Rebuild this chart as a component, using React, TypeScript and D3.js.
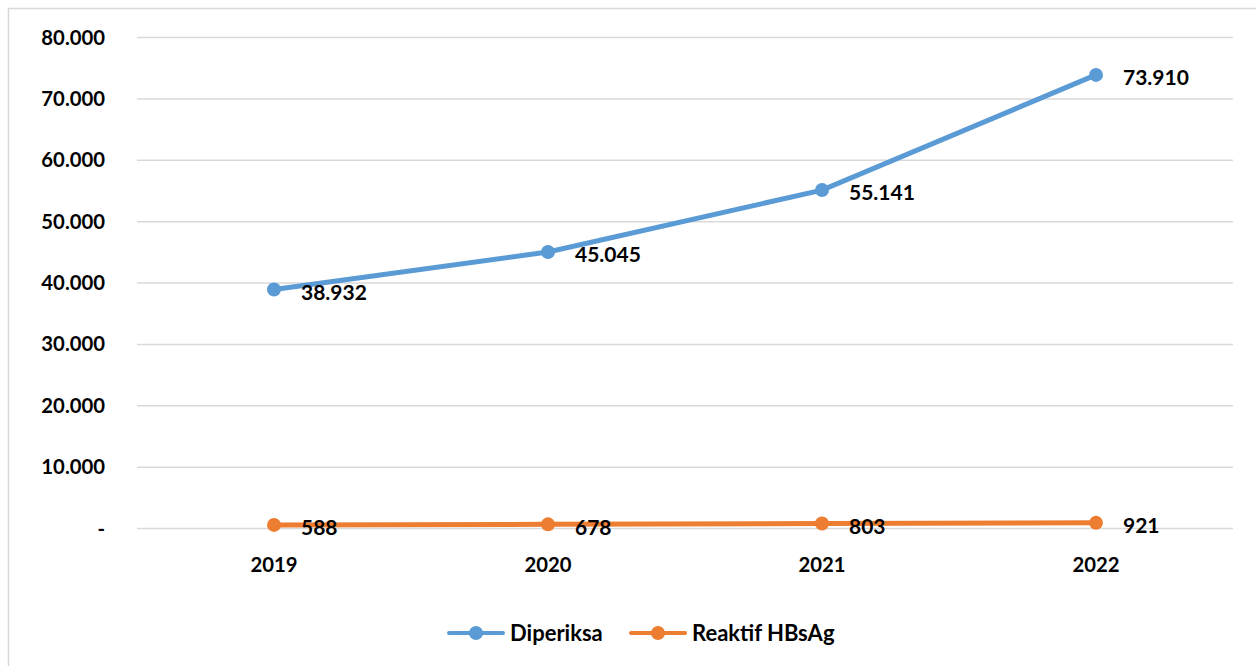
import React from "react";
import * as d3 from "d3";

const categories = ["2019", "2020", "2021", "2022"];
const diperiksa = [38932, 45045, 55141, 73910];
const reaktif = [588, 678, 803, 921];
const yTicks = [0, 10000, 20000, 30000, 40000, 50000, 60000, 70000, 80000];
const seriesNames = ["Diperiksa", "Reaktif HBsAg"];
const colors = ["#5B9BD5", "#ED7D31"];

const fmt = (v: number) => (v === 0 ? "-" : d3.format(",")(v).replace(/,/g, "."));

export default function App() {
  const W = 1256, H = 666;
  const x = d3.scaleBand().domain(categories).range([137, 1233]);
  const y = d3.scaleLinear().domain([0, 80000]).range([528.5, 37.5]);
  const cx = (c: string) => (x(c) ?? 0) + x.bandwidth() / 2;
  const line = d3.line<number>().x((_, i) => cx(categories[i])).y((d) => y(d));
  const series = [diperiksa, reaktif];
  const font = "Lato, 'Open Sans', sans-serif";
  const legendX = [449, 631];
  return (
    <svg width={W} height={H} style={{ position: "absolute", left: 0, top: 0 }} fontFamily={font}>
      <rect x={8.5} y={8.5} width={1260} height={670} fill="white" stroke="#D9D9D9" strokeWidth={1.5} />
      {yTicks.map((t) => (
        <g key={t}>
          <line x1={137} x2={1233} y1={y(t)} y2={y(t)} stroke="#D9D9D9" strokeWidth={1.5} />
          <text x={105} y={y(t)} dy="0.35em" textAnchor="end" fontSize={20.3} fontWeight="bold" fill="#000">
            {fmt(t)}
          </text>
        </g>
      ))}
      {categories.map((c) => (
        <text key={c} x={cx(c)} y={572} textAnchor="middle" fontSize={20.3} fontWeight="bold" fill="#000">
          {c}
        </text>
      ))}
      {series.map((s, si) => (
        <g key={si}>
          <path d={line(s) ?? ""} fill="none" stroke={colors[si]} strokeWidth={5} strokeLinecap="round" />
          {s.map((v, i) => (
            <circle key={i} cx={cx(categories[i])} cy={y(v)} r={7} fill={colors[si]} />
          ))}
          {s.map((v, i) => (
            <text key={"t" + i} x={cx(categories[i]) + 27} y={y(v) + 3} dy="0.35em" fontSize={21} fontWeight="bold" fill="#000">
              {fmt(v)}
            </text>
          ))}
        </g>
      ))}
      {seriesNames.map((n, i) => (
        <g key={n}>
          <line x1={legendX[i]} x2={legendX[i] + 54} y1={633} y2={633} stroke={colors[i]} strokeWidth={4} strokeLinecap="round" />
          <circle cx={legendX[i] + 27} cy={633} r={7} fill={colors[i]} />
          <text x={legendX[i] + 61} y={633} dy="0.35em" fontSize={22} fontWeight="bold" fill="#000">
            {n}
          </text>
        </g>
      ))}
    </svg>
  );
}
